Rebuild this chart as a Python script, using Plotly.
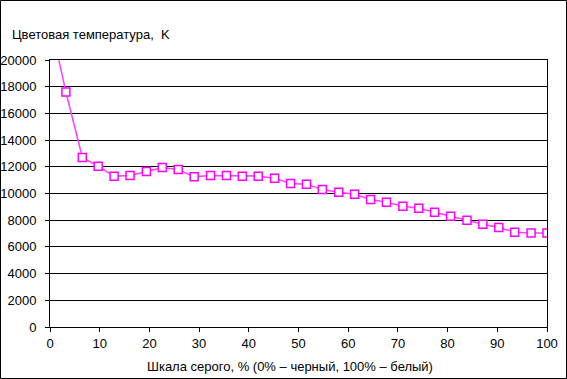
import plotly.graph_objects as go

gray_pct = [0, 3.2, 6.5, 9.7, 12.9, 16.1, 19.4, 22.6, 25.8, 29.0, 32.3, 35.5,
            38.7, 41.9, 45.2, 48.4, 51.6, 54.8, 58.1, 61.3, 64.5, 67.7, 71.0,
            74.2, 77.4, 80.6, 83.9, 87.1, 90.3, 93.5, 96.8, 100]
color_temp = [23000, 17600, 12700, 12050, 11300, 11350, 11650, 11950, 11800,
              11250, 11350, 11350, 11300, 11300, 11150, 10750, 10700, 10300,
              10100, 9950, 9550, 9350, 9050, 8900, 8600, 8300, 8000, 7700,
              7450, 7100, 7050, 7050]
x_ticks = [0, 10, 20, 30, 40, 50, 60, 70, 80, 90, 100]
y_ticks = [0, 2000, 4000, 6000, 8000, 10000, 12000, 14000, 16000, 18000, 20000]

title_text = "Цветовая температура,  K"
x_title = "Шкала серого, % (0% – черный, 100% – белый)"

W, H = 567, 379
L, R, T, B = 50, 20, 60, 52
pw = W - L - R
ph = H - T - B

FONT = "Liberation Sans, Arial, sans-serif"

fig = go.Figure()
fig.add_trace(go.Scatter(
    x=gray_pct, y=color_temp, mode="lines+markers",
    line=dict(color="#FF40FF", width=1.5),
    marker=dict(symbol="square", size=8, color="white",
                line=dict(color="#FF00FF", width=1.5)),
    showlegend=False,
))

fig.update_layout(
    width=W, height=H,
    margin=dict(l=L, r=R, t=T, b=B, autoexpand=False),
    paper_bgcolor="white", plot_bgcolor="white",
    font=dict(family=FONT, size=13, color="black"),
    xaxis=dict(range=[0, 100], tickvals=x_ticks, showgrid=False,
               zeroline=False, showline=True, linecolor="black", linewidth=1,
               mirror=True, ticks="outside", ticklen=4, tickcolor="black",
               tickfont=dict(size=13, color="black")),
    yaxis=dict(range=[0, 20000], tickvals=y_ticks, tickformat="d",
               showgrid=True, gridcolor="black", gridwidth=1, zeroline=False,
               showline=True, linecolor="black", linewidth=1, mirror=True,
               ticks="outside", ticklen=4, tickcolor="black",
               ticklabelstandoff=6,
               tickfont=dict(size=13, color="black")),
)

fig.add_annotation(text=title_text, xref="paper", yref="paper",
                   x=(10 - L) / pw, y=(H - B - 34) / ph,
                   xanchor="left", yanchor="middle", showarrow=False,
                   font=dict(size=13, color="black"))
fig.add_annotation(text=x_title, xref="paper", yref="paper",
                   x=(290 - L) / pw, y=(H - B - 366) / ph,
                   xanchor="center", yanchor="middle", showarrow=False,
                   font=dict(size=13, color="black"))

fig.add_shape(type="rect", xref="paper", yref="paper",
              x0=(0.5 - L) / pw, x1=(W - 0.5 - L) / pw,
              y0=(H - B - (H - 0.5)) / ph, y1=(H - B - 0.5) / ph,
              line=dict(color="black", width=1), fillcolor="rgba(0,0,0,0)")

fig.write_html("out.html",
               config={"displayModeBar": False},
               post_script="document.body.style.margin='0';"
                           "document.body.style.overflow='hidden';")
